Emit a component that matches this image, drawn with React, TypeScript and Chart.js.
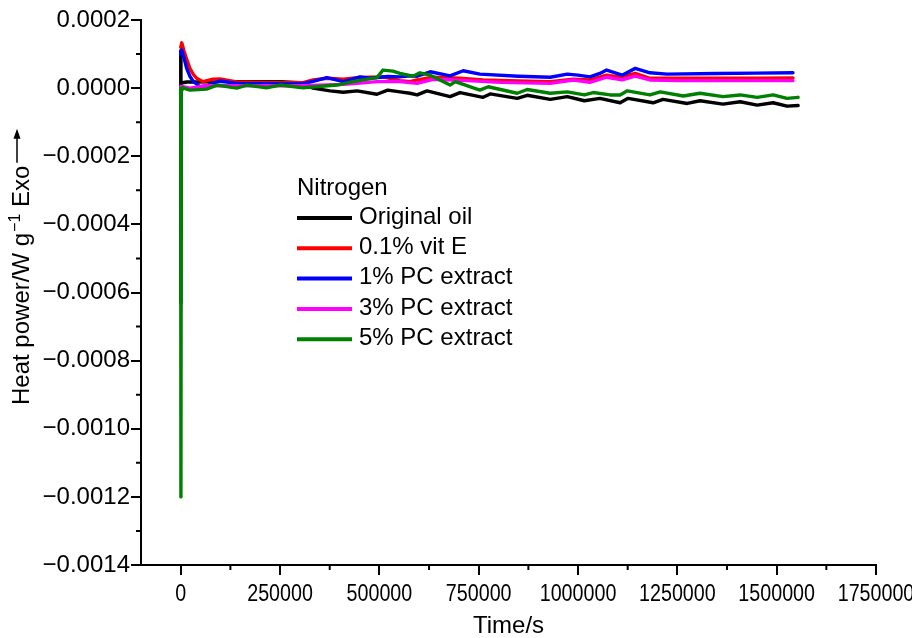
import React, { useEffect, useRef } from "react";
import { Chart, registerables } from "chart.js";

Chart.register(...registerables);

const FONT = '"Liberation Sans", Arial, Helvetica, sans-serif';

const seriesLabels = ["Original oil", "0.1% vit E", "1% PC extract", "3% PC extract", "5% PC extract"];
const seriesColors = ["#000000", "#ff0000", "#0000ff", "#ff00ff", "#008000"];
const legendTitle = "Nitrogen";
const xTitle = "Time/s";
const yTitleMain = "Heat power/W g";
const yTitleSup = "\u22121";
const yTitleEnd = " Exo";

// Time (s) and heat power (W/g) for each sample
const originalOilTime = [0, 500, 1000, 15000, 40000, 100000, 174000, 250000, 300000, 333000, 376000, 409000, 444000, 494000, 521000, 552000, 577000, 595000, 620000, 678000, 703000, 761000, 779000, 847000, 872000, 930000, 973000, 1016000, 1055000, 1106000, 1126000, 1189000, 1214000, 1275000, 1307000, 1365000, 1408000, 1451000, 1491000, 1526000, 1554000];
const originalOilValue = [0.000110, -0.000630, 0.000015, 0.000018, 0.000018, 0.000019, 0.000019, 0.000019, 0.000016, 0.000000, -0.000008, -0.000012, -0.000008, -0.000018, -0.000006, -0.000011, -0.000015, -0.000020, -0.000008, -0.000025, -0.000013, -0.000027, -0.000017, -0.000030, -0.000021, -0.000033, -0.000025, -0.000037, -0.000030, -0.000043, -0.000030, -0.000043, -0.000033, -0.000045, -0.000037, -0.000047, -0.000040, -0.000050, -0.000043, -0.000053, -0.000051];

const vitETime = [0, 2500, 8000, 15000, 23000, 32000, 40000, 56000, 81000, 99000, 141000, 200000, 250000, 308000, 333000, 368000, 409000, 451000, 509000, 552000, 577000, 595000, 635000, 703000, 761000, 850000, 930000, 988000, 1030000, 1072000, 1106000, 1144000, 1181000, 1230000, 1350000, 1450000, 1541000];
const vitEValue = [0.000120, 0.000133, 0.000110, 0.000085, 0.000058, 0.000040, 0.000029, 0.000019, 0.000026, 0.000027, 0.000018, 0.000017, 0.000016, 0.000016, 0.000024, 0.000029, 0.000026, 0.000031, 0.000033, 0.000022, 0.000019, 0.000024, 0.000032, 0.000029, 0.000024, 0.000021, 0.000019, 0.000026, 0.000024, 0.000038, 0.000032, 0.000043, 0.000029, 0.000029, 0.000029, 0.000029, 0.000030];

const pc1Time = [0, 2500, 8000, 15000, 23000, 32000, 49000, 65000, 99000, 141000, 200000, 250000, 308000, 333000, 368000, 409000, 451000, 476000, 521000, 552000, 577000, 595000, 628000, 678000, 711000, 753000, 850000, 930000, 973000, 1000000, 1030000, 1055000, 1072000, 1111000, 1144000, 1181000, 1224000, 1350000, 1450000, 1541000];
const pc1Value = [0.000100, 0.000112, 0.000090, 0.000058, 0.000035, 0.000019, 0.000004, 0.000007, 0.000021, 0.000014, 0.000013, 0.000012, 0.000013, 0.000020, 0.000031, 0.000019, 0.000033, 0.000029, 0.000034, 0.000033, 0.000036, 0.000035, 0.000048, 0.000036, 0.000051, 0.000041, 0.000035, 0.000032, 0.000041, 0.000038, 0.000033, 0.000043, 0.000053, 0.000038, 0.000058, 0.000045, 0.000041, 0.000043, 0.000044, 0.000045];

const pc3Time = [0, 5800, 23000, 65000, 141000, 250000, 308000, 368000, 409000, 444000, 494000, 552000, 595000, 635000, 721000, 804000, 930000, 988000, 1030000, 1072000, 1111000, 1144000, 1181000, 1250000, 1400000, 1541000];
const pc3Value = [0.000005, 0.000004, 0.000000, 0.000007, 0.000007, 0.000007, 0.000007, 0.000009, 0.000011, 0.000014, 0.000019, 0.000019, 0.000014, 0.000026, 0.000022, 0.000017, 0.000014, 0.000024, 0.000017, 0.000032, 0.000024, 0.000035, 0.000024, 0.000022, 0.000022, 0.000022];

const pc5Time = [0, 500, 1500, 5800, 23000, 65000, 91000, 141000, 166000, 216000, 250000, 308000, 340000, 393000, 434000, 494000, 509000, 534000, 552000, 585000, 602000, 628000, 678000, 691000, 753000, 774000, 847000, 872000, 930000, 973000, 1016000, 1038000, 1081000, 1106000, 1124000, 1181000, 1207000, 1265000, 1307000, 1365000, 1408000, 1451000, 1491000, 1526000, 1554000];
const pc5Value = [0.000000, -0.001200, -0.000010, 0.000001, -0.000006, -0.000003, 0.000009, 0.000000, 0.000009, 0.000001, 0.000009, 0.000001, 0.000004, 0.000009, 0.000019, 0.000031, 0.000053, 0.000050, 0.000043, 0.000035, 0.000045, 0.000038, 0.000009, 0.000019, -0.000006, 0.000004, -0.000015, -0.000004, -0.000015, -0.000011, -0.000020, -0.000013, -0.000020, -0.000020, -0.000008, -0.000020, -0.000011, -0.000023, -0.000015, -0.000025, -0.000020, -0.000027, -0.000020, -0.000030, -0.000027];

const seriesTimes = [originalOilTime, vitETime, pc1Time, pc3Time, pc5Time];
const seriesValues = [originalOilValue, vitEValue, pc1Value, pc3Value, pc5Value];

const xTickValues = [0, 250000, 500000, 750000, 1000000, 1250000, 1500000, 1750000];
const xMinorTickValues = [125000, 375000, 625000, 875000, 1125000, 1375000, 1625000];
const yTickValues = [0.0002, 0, -0.0002, -0.0004, -0.0006, -0.0008, -0.001, -0.0012, -0.0014];
const yMinorTickValues = [0.0001, -0.0001, -0.0003, -0.0005, -0.0007, -0.0009, -0.0011, -0.0013];

const formatY = (v: number) => {
  if (Math.abs(v) < 1e-12) return "0.0000";
  return (v < 0 ? "\u2212" : "") + Math.abs(v).toFixed(4);
};

const decorPlugin = {
  id: "decor",
  afterDraw(chart: any) {
    const ctx = chart.ctx as CanvasRenderingContext2D;
    const xs = chart.scales.x;
    const ys = chart.scales.y;
    const area = chart.chartArea;
    ctx.save();
    ctx.strokeStyle = "#000";
    ctx.fillStyle = "#000";
    ctx.lineWidth = 2;
    // minor ticks
    ctx.beginPath();
    xMinorTickValues.forEach((v) => {
      const px = xs.getPixelForValue(v);
      ctx.moveTo(px, area.bottom);
      ctx.lineTo(px, area.bottom + 5);
    });
    yMinorTickValues.forEach((v) => {
      const py = ys.getPixelForValue(v);
      ctx.moveTo(area.left, py);
      ctx.lineTo(area.left - 5, py);
    });
    ctx.stroke();

    // x tick labels (condensed)
    ctx.font = `24px ${FONT}`;
    ctx.textAlign = "center";
    ctx.textBaseline = "middle";
    xTickValues.forEach((v) => {
      const px = xs.getPixelForValue(v);
      ctx.save();
      ctx.translate(px, area.bottom + 29);
      ctx.scale(0.82, 1);
      ctx.fillText(String(v), 0, 0);
      ctx.restore();
    });

    // y title with superscript and arrow
    ctx.save();
    ctx.translate(29, 405);
    ctx.rotate(-Math.PI / 2);
    ctx.textAlign = "left";
    ctx.textBaseline = "alphabetic";
    ctx.font = `24px ${FONT}`;
    ctx.fillText(yTitleMain, 0, 0);
    let w = ctx.measureText(yTitleMain).width;
    ctx.font = `16px ${FONT}`;
    ctx.fillText(yTitleSup, w + 1, -9);
    w += 1 + ctx.measureText(yTitleSup).width;
    ctx.font = `24px ${FONT}`;
    ctx.fillText(yTitleEnd, w, 0);
    w += ctx.measureText(yTitleEnd).width;
    const ay = -12;
    const a0 = w + 3;
    const a1 = a0 + 34;
    ctx.lineWidth = 1.5;
    ctx.beginPath();
    ctx.moveTo(a0, ay);
    ctx.lineTo(a1 - 6, ay);
    ctx.stroke();
    ctx.beginPath();
    ctx.moveTo(a1, ay);
    ctx.lineTo(a1 - 10, ay - 3.5);
    ctx.lineTo(a1 - 10, ay + 3.5);
    ctx.closePath();
    ctx.fill();
    ctx.restore();

    // legend
    ctx.font = `24px ${FONT}`;
    ctx.textAlign = "left";
    ctx.textBaseline = "middle";
    ctx.fillStyle = "#000";
    ctx.fillText(legendTitle, 297, 188);
    seriesLabels.forEach((label, i) => {
      const y = 217 + 30.3 * i;
      ctx.strokeStyle = seriesColors[i];
      ctx.lineWidth = 4;
      ctx.beginPath();
      ctx.moveTo(297, y + 1);
      ctx.lineTo(352, y + 1);
      ctx.stroke();
      ctx.fillStyle = "#000";
      ctx.fillText(label, 359, y);
    });
    ctx.restore();
  },
};

export default function App() {
  const ref = useRef<HTMLCanvasElement>(null);
  useEffect(() => {
    document.body.style.margin = "0";
    const datasets = seriesLabels.map((label, i) => ({
      label,
      data: seriesTimes[i].map((t, j) => ({ x: t, y: seriesValues[i][j] })),
      borderColor: seriesColors[i],
      backgroundColor: seriesColors[i],
      borderWidth: 3.4,
      pointRadius: 0,
      tension: 0,
      fill: false,
      borderJoinStyle: "round" as const,
      borderCapStyle: "round" as const,
      order: seriesLabels.length - i,
    }));
    const chart = new Chart(ref.current!, {
      type: "line",
      data: { datasets },
      options: {
        animation: false,
        responsive: false,
        maintainAspectRatio: false,
        layout: { padding: { top: 20, right: 36, bottom: 0, left: 0 } },
        plugins: { legend: { display: false }, tooltip: { enabled: false } },
        scales: {
          x: {
            type: "linear",
            min: -100000,
            max: 1750000,
            afterBuildTicks: (s: any) => {
              s.ticks = xTickValues.map((v) => ({ value: v }));
            },
            afterFit: (s: any) => {
              s.height = 73;
            },
            grid: { drawOnChartArea: false, drawTicks: true, tickLength: 10, color: "#000", lineWidth: 2 },
            border: { display: true, color: "#000", width: 2 },
            ticks: { display: false },
            title: {
              display: true,
              text: xTitle,
              color: "#000",
              font: { family: FONT, size: 24, lineHeight: 1 },
              padding: { top: 0, bottom: 0 },
            },
          },
          y: {
            type: "linear",
            min: -0.0014,
            max: 0.0002,
            afterBuildTicks: (s: any) => {
              s.ticks = yTickValues.map((v) => ({ value: v }));
            },
            afterFit: (s: any) => {
              s.width = 141;
            },
            grid: { drawOnChartArea: false, drawTicks: true, tickLength: 10, color: "#000", lineWidth: 2 },
            border: { display: true, color: "#000", width: 2 },
            ticks: {
              color: "#000",
              padding: 1,
              font: { family: FONT, size: 24 },
              callback: (v: any) => formatY(Number(v)),
            },
          },
        },
      },
      plugins: [decorPlugin],
    } as any);
    return () => chart.destroy();
  }, []);
  return (
    <div style={{ position: "relative", width: 912, height: 638 }}>
      <canvas ref={ref} width={912} height={638} style={{ display: "block", width: 912, height: 638 }} />
    </div>
  );
}
